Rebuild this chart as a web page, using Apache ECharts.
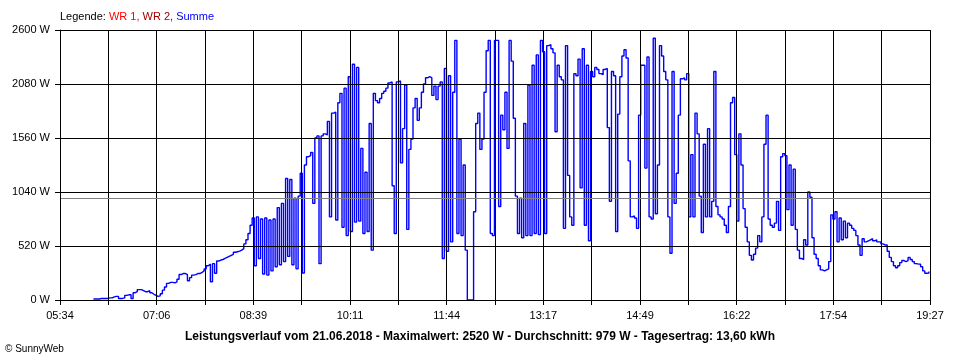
<!DOCTYPE html>
<html>
<head>
<meta charset="utf-8">
<script src="https://cdn.jsdelivr.net/npm/echarts@6/dist/echarts.min.js"></script>
<style>
html,body{margin:0;padding:0;background:#fff;}
#chart{width:960px;height:360px;}
</style>
</head>
<body>
<div id="chart"></div>
<script>
// ---- data ----
const spanMinutes = 833;          // 05:34 -> 19:27
const gridDivisions = 18;
const stepMinutes = 2;            // sampling step of the series (minutes after 05:34)
const xTickLabels = ['05:34','07:06','08:39','10:11','11:44','13:17','14:49','16:22','17:54','19:27'];
const yMax = 2600;
const yStep = 520;
const averageW = 979;
const maxW = 2520;
const dayYieldKWh = '13,60';
const dateText = '21.06.2018';

// Summe (W), one value every 2 minutes from 05:34
const summeW = [
  null,null,null,null,null,null,null,null,null,null,
  null,null,null,null,null,null,10,10,10,15,
  15,15,15,20,20,30,35,35,15,15,
  20,45,50,50,15,70,80,100,100,90,
  80,80,90,70,55,45,35,40,60,95,
  125,160,170,170,165,175,200,245,255,255,
  245,185,215,240,245,255,255,265,280,300,
  330,345,176,350,257,375,385,390,400,410,
  420,430,440,460,465,470,480,495,540,580,
  640,720,790,330,800,400,780,250,790,240,
  770,280,780,320,890,340,930,370,1170,420,
  1160,340,980,300,1000,1220,260,1300,1380,1390,
  1420,930,1560,1580,350,1580,1600,1590,1720,800,
  1800,1810,770,1900,1990,700,2040,620,2150,660,
  2270,750,2240,760,1460,640,1230,660,1700,480,
  1990,1920,1900,1940,1990,2010,2040,2090,2100,1100,
  640,2100,2110,1320,1650,2070,680,1450,1550,1850,
  1940,1730,1850,2000,2080,2140,2150,2140,1970,2060,
  1930,2060,2100,400,2230,470,2160,560,2000,2500,
  640,1550,620,1300,480,0,0,0,850,1700,
  1800,1450,1550,2000,2400,2500,640,620,2500,2500,
  900,1780,1640,2000,1460,2500,2300,1750,1000,640,
  980,600,1700,620,2070,620,2260,640,2360,630,
  2500,2390,640,2450,2460,2420,2380,1620,2260,2150,
  2120,690,2450,1200,800,720,2180,2160,2320,1080,
  2420,720,2260,570,2200,2150,2240,2220,2180,2170,
  2220,2230,1660,950,2200,2160,660,1790,2150,2350,
  2410,2330,1340,800,810,790,690,1780,2260,2260,
  1270,2340,800,780,2520,830,1300,2450,2350,2200,
  2120,800,450,2200,930,1220,1780,2130,2140,2120,
  2180,800,1400,800,1800,1600,1000,650,1500,800,
  1650,800,950,2200,900,820,800,780,720,650,
  900,1900,1950,1400,760,1600,1300,880,700,560,
  430,385,440,500,620,560,800,1500,1780,780,
  720,700,740,950,670,1380,1410,1390,870,1300,
  720,1260,680,480,400,390,580,530,1040,990,
  600,440,400,330,290,280,290,300,370,820,
  780,850,560,790,580,760,600,740,720,690,
  670,620,530,430,590,560,570,580,590,570,
  580,560,560,540,530,530,470,410,370,330,
  310,330,360,380,370,380,410,390,370,350,
  345,345,320,280,257,260,275
];

// ---- chart ----
const seriesData = summeW.map((v, i) => [i * stepMinutes, v]);
const xInterval = spanMinutes / gridDivisions;
const FONT = '"Liberation Sans", Arial, sans-serif';

const chart = echarts.init(document.getElementById('chart'), null, {renderer: 'canvas'});
chart.setOption({
  animation: false,
  backgroundColor: '#ffffff',
  grid: {left: 60, right: 30, top: 30, bottom: 60},
  xAxis: {
    type: 'value',
    min: 0,
    max: spanMinutes,
    interval: xInterval,
    z: 5,
    axisLine: {show: true, lineStyle: {color: '#000', width: 1}},
    axisTick: {show: true, length: 5, lineStyle: {color: '#000', width: 1}},
    splitLine: {show: true, lineStyle: {color: '#000', width: 1}},
    axisLabel: {
      show: true, margin: 10, color: '#000', fontSize: 11, fontFamily: FONT,
      showMinLabel: true, showMaxLabel: true,
      formatter: function (v) {
        const k = Math.round(v / xInterval);
        return (k % 2 === 0) ? (xTickLabels[k / 2] || '') : '';
      }
    }
  },
  yAxis: {
    type: 'value',
    min: 0,
    max: yMax,
    interval: yStep,
    z: 5,
    axisLine: {show: true, lineStyle: {color: '#000', width: 1}},
    axisTick: {show: true, length: 5, lineStyle: {color: '#000', width: 1}},
    splitLine: {show: true, lineStyle: {color: '#000', width: 1}},
    axisLabel: {margin: 10, color: '#000', fontSize: 11, fontFamily: FONT,
      formatter: function (v) { return String(v) + ' W'; }}
  },
  series: [{
    name: 'Summe',
    type: 'line',
    step: 'end',
    data: seriesData,
    showSymbol: false,
    symbol: 'none',
    z: 1,
    lineStyle: {color: '#0000ff', width: 1.4},
    itemStyle: {color: '#0000ff'},
    markLine: {
      silent: true,
      symbol: ['none', 'none'],
      label: {show: false},
      lineStyle: {color: '#808080', width: 1, type: 'solid'},
      data: [{yAxis: averageW}]
    }
  }],
  graphic: [
    {
      type: 'text', left: 60, top: 11,
      style: {
        text: '{k|Legende: }{a|WR 1, }{b|WR 2, }{c|Summe}',
        font: '11px ' + FONT,
        rich: {
          k: {fill: '#000', font: '11px ' + FONT},
          a: {fill: '#ff0000', font: '11px ' + FONT},
          b: {fill: '#a00000', font: '11px ' + FONT},
          c: {fill: '#0000ff', font: '11px ' + FONT}
        }
      }
    },
    {
      type: 'text', x: 480, y: 337,
      style: {
        text: 'Leistungsverlauf vom ' + dateText + ' - Maximalwert: ' + maxW + ' W - Durchschnitt: ' + averageW + ' W - Tagesertrag: ' + dayYieldKWh + ' kWh',
        font: 'bold 12px ' + FONT, fill: '#000', align: 'center', verticalAlign: 'middle'
      }
    },
    {
      type: 'text', x: 5, y: 349,
      style: {text: '\u00A9 SunnyWeb', font: '10px ' + FONT, fill: '#000', align: 'left', verticalAlign: 'middle'}
    }
  ]
});
</script>
</body>
</html>
